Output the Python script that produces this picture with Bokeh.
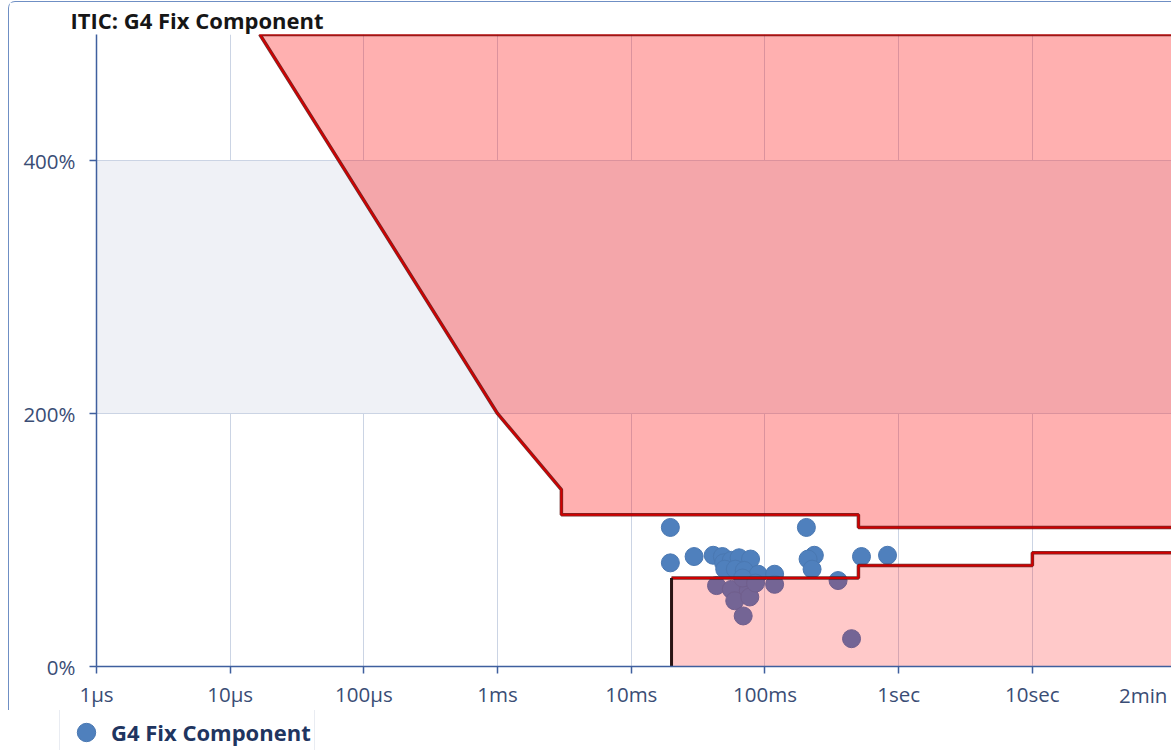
from bokeh.plotting import figure
from bokeh.layouts import column
from bokeh.models import (FixedTicker, Legend, LegendItem, ColumnDataSource)
from bokeh.embed import file_html
from bokeh.resources import INLINE

# Event durations (seconds) and voltage magnitudes (% of nominal)
event_seconds = [0.0196, 0.0196, 0.0295, 0.041, 0.048, 0.049, 0.056, 0.064, 0.078,
                 0.050, 0.060, 0.070, 0.089, 0.118, 0.118, 0.0434, 0.056, 0.075,
                 0.0594, 0.077, 0.0687, 0.068, 0.085, 0.204, 0.234, 0.210, 0.225,
                 0.527, 0.825, 0.352, 0.444]
event_percent = [110, 82, 87, 88, 87, 82, 84, 86, 85,
                 77, 77, 76, 73, 73, 65, 64, 61, 60,
                 52, 55, 40, 70, 66, 110, 88, 85, 77,
                 87, 88, 68, 22]

# ITIC envelope: prohibited (over-voltage) and no-damage (under-voltage) regions
upper_t = [1 / 60000, 1e-3, 3e-3, 3e-3, 0.5, 0.5, 1000, 1000]
upper_v = [500, 200, 140, 120, 120, 110, 110, 500]
lower_t = [0.02, 0.02, 0.5, 0.5, 10, 10, 1000, 1000]
lower_v = [0, 70, 70, 80, 80, 90, 90, 0]

# Axis ticks
x_ticks = [1e-6, 1e-5, 1e-4, 1e-3, 1e-2, 1e-1, 1, 10]
x_tick_labels = ["1µs", "10µs", "100µs", "1ms", "10ms", "100ms", "1sec", "10sec"]
x_end_label = "2min"
y_ticks = [0, 200, 400]
y_tick_labels = ["0%", "200%", "400%"]

FONT = "Open Sans"
TEXT = "#3a4d75"
AXIS = "#3f5f9e"
GRID = "#cbd4e4"
EDGE = "1px solid #6f8fc4"

p = figure(width=1163, height=709, x_axis_type="log",
           x_range=(1e-6, 111.7), y_range=(0, 500),
           output_backend="svg", toolbar_location=None,
           min_border_left=87, min_border_right=0,
           min_border_top=30, min_border_bottom=42)
p.styles = {"margin-left": "8px", "margin-top": "1px",
            "border-left": EDGE, "border-top": EDGE,
            "border-top-left-radius": "7px"}
p.outline_line_color = None
p.background_fill_color = "white"
p.border_fill_color = "white"

p.title.text = "ITIC: G4 Fix Component"
p.title.text_font = FONT
p.title.text_font_style = "bold"
p.title.text_font_size = "22px"
p.title.text_line_height = 0.8
p.title.text_color = "#161616"
p.title.align = "left"
p.title.offset = -26
p.title.standoff = 0

# axes
p.xaxis.ticker = FixedTicker(ticks=x_ticks, minor_ticks=[])
p.xaxis.major_label_overrides = dict(zip(x_ticks, x_tick_labels))
p.yaxis.ticker = FixedTicker(ticks=y_ticks, minor_ticks=[])
p.yaxis.major_label_overrides = dict(zip(y_ticks, y_tick_labels))
for ax in (p.xaxis, p.yaxis):
    ax.axis_line_color = AXIS
    ax.axis_line_width = 1.5
    ax.major_tick_line_color = AXIS
    ax.major_tick_line_width = 1.5
    ax.major_tick_out = 7
    ax.major_tick_in = 0
    ax.minor_tick_line_color = None
    ax.major_label_text_font = FONT
    ax.major_label_text_color = TEXT
    ax.major_label_text_font_size = "20.5px"
p.xaxis.major_label_standoff = 6
p.yaxis.major_label_standoff = 14

# the range end label of the time axis, level with the tick labels
p.xaxis.axis_label = x_end_label + "\u00a0" * 11
p.xaxis.axis_label_align = "end"
p.xaxis.axis_label_standoff = -30
p.xaxis.axis_label_text_font = FONT
p.xaxis.axis_label_text_font_style = "normal"
p.xaxis.axis_label_text_font_size = "20.5px"
p.xaxis.axis_label_text_color = TEXT

p.xgrid.grid_line_color = GRID
p.ygrid.grid_line_color = GRID
p.xgrid.ticker = FixedTicker(ticks=x_ticks)
p.ygrid.ticker = FixedTicker(ticks=y_ticks)
p.ygrid.band_fill_color = "#eff1f6"
p.ygrid.band_fill_alpha = 1.0

# measured events
src = ColumnDataSource(dict(t=event_seconds, v=event_percent))
pts = p.scatter("t", "v", source=src, size=18, marker="circle",
                fill_color="#4f80bd", line_color="#4a78b2", line_width=1)

# envelope regions drawn over the events
p.patch(upper_t, upper_v, fill_color="#ff0000", fill_alpha=0.31, line_color=None)
p.patch(lower_t, lower_v, fill_color="#ff0000", fill_alpha=0.21, line_color=None)

upper_edge_t = upper_t[-1:] + upper_t[:-1]
upper_edge_v = upper_v[-1:] + upper_v[:-1]
p.line(upper_edge_t, upper_edge_v, line_color="#5a1010", line_width=3.5, line_alpha=0.85)
p.line(upper_edge_t, upper_edge_v, line_color="#d00000", line_width=2)
p.line(lower_t[1:-1], lower_v[1:-1], line_color="#5a1010", line_width=3.5, line_alpha=0.85)
p.line(lower_t[1:-1], lower_v[1:-1], line_color="#d00000", line_width=2)
p.line(lower_t[:2], lower_v[:2], line_color="#2a1414", line_width=3)

# legend strip under the chart
lg = figure(width=1163, height=40, x_range=(0, 1), y_range=(1000, 2000),
            output_backend="svg", toolbar_location=None,
            x_axis_location=None, y_axis_location=None,
            min_border=0)
lg.styles = {"margin-left": "-28px"}
lg.grid.visible = False
lg.outline_line_color = None
lg.background_fill_color = "white"
lg.border_fill_color = "white"
key = lg.scatter("t", "v", source=src, size=18, marker="circle",
                 fill_color="#4f80bd", line_color="#4a78b2", line_width=1)
legend = Legend(items=[LegendItem(label="G4 Fix Component", renderers=[key])],
                location=(0, -9), orientation="horizontal",
                label_text_font=FONT, label_text_font_style="bold",
                label_text_font_size="22px", label_text_color="#1f3560",
                border_line_color="#d3dae6", border_line_width=1,
                background_fill_color="white", background_fill_alpha=1,
                padding=3, margin=0, glyph_width=46, glyph_height=46,
                label_standoff=2)
lg.add_layout(legend, "center")

layout = column(p, lg, spacing=0)
open("out.html", "w").write(file_html(layout, INLINE))
